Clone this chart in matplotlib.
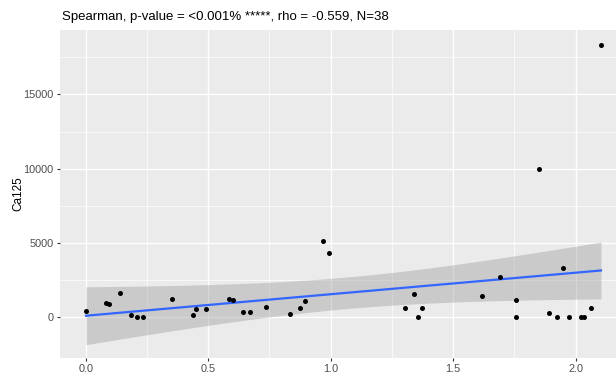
import matplotlib
matplotlib.use("Agg")
import matplotlib.pyplot as plt
import numpy as np

# values
x_vals = [0.001, 0.083, 0.096, 0.139, 0.186, 0.211, 0.235, 0.352, 0.437, 0.449,
          0.490, 0.586, 0.602, 0.641, 0.671, 0.735, 0.835, 0.873, 0.894, 0.970,
          0.992, 1.302, 1.341, 1.355, 1.374, 1.616, 1.690, 1.756, 1.756, 1.851,
          1.890, 1.924, 1.950, 1.971, 2.023, 2.034, 2.063, 2.103]
ca125 = [444, 982, 895, 1635, 155, 20, 0, 1231, 134, 579,
         558, 1231, 1144, 377, 336, 713, 202, 606, 1077, 5135,
         4327, 626, 1568, 40, 626, 1454, 2692, 1184, 0, 9960,
         310, 40, 3318, 0, 40, 40, 626, 18325]

title = "Spearman, p-value = <0.001% *****, rho = -0.559, N=38"
y_label = "Ca125"
x_ticks = [0.0, 0.5, 1.0, 1.5, 2.0]
x_tick_labels = ["0.0", "0.5", "1.0", "1.5", "2.0"]
y_ticks = [0, 5000, 10000, 15000]

plt.rcParams['font.family'] = ['Liberation Sans', 'DejaVu Sans']

x = np.array(x_vals)
y = np.array(ca125, dtype=float)

# linear fit with 95% confidence band (like geom_smooth(method="lm"))
n = len(x)
slope, intercept = np.polyfit(x, y, 1)
resid = y - (slope * x + intercept)
s_err = np.sqrt(np.sum(resid ** 2) / (n - 2))
t_crit = 2.028  # t(0.975, df=36)
xs = np.linspace(x.min(), x.max(), 100)
ys = slope * xs + intercept
se = s_err * np.sqrt(1 / n + (xs - x.mean()) ** 2 / np.sum((x - x.mean()) ** 2))

fig = plt.figure(figsize=(6.16, 3.79), dpi=100)
ax = fig.add_axes([60 / 616, 21 / 379, 566.7 / 616, 328 / 379])
ax.set_facecolor('#EBEBEB')

ax.fill_between(xs, ys - t_crit * se, ys + t_crit * se, color='#999999', alpha=0.4,
                linewidth=0, zorder=2)
ax.plot(xs, ys, color='#3366FF', linewidth=1.6, zorder=3)
ax.scatter(x, y, s=13, color='black', zorder=4, linewidths=0)

ax.set_xlim(-0.105, 2.208)
ax.set_ylim(-2739, 19336)
ax.set_xticks(x_ticks)
ax.set_xticklabels(x_tick_labels)
ax.set_yticks(y_ticks)
ax.set_xticks([0.25, 0.75, 1.25, 1.75], minor=True)
ax.set_yticks([2500, 7500, 12500, 17500], minor=True)
ax.grid(which='major', color='white', linewidth=1.0)
ax.grid(which='minor', color='white', linewidth=0.5)
ax.set_axisbelow(True)
for sp in ax.spines.values():
    sp.set_visible(False)
ax.tick_params(which='major', length=2.5, width=0.8, color='#333333',
               labelsize=7.8, labelcolor='#4D4D4D', pad=2)
ax.tick_params(which='minor', length=0)

ax.set_ylabel(y_label, fontsize=8.5)
ax.yaxis.set_label_coords(-0.062, 0.5)
ax.set_title(title, fontsize=9.5, loc='left', x=0.003, pad=7)

fig.savefig('out.png', dpi=100)
